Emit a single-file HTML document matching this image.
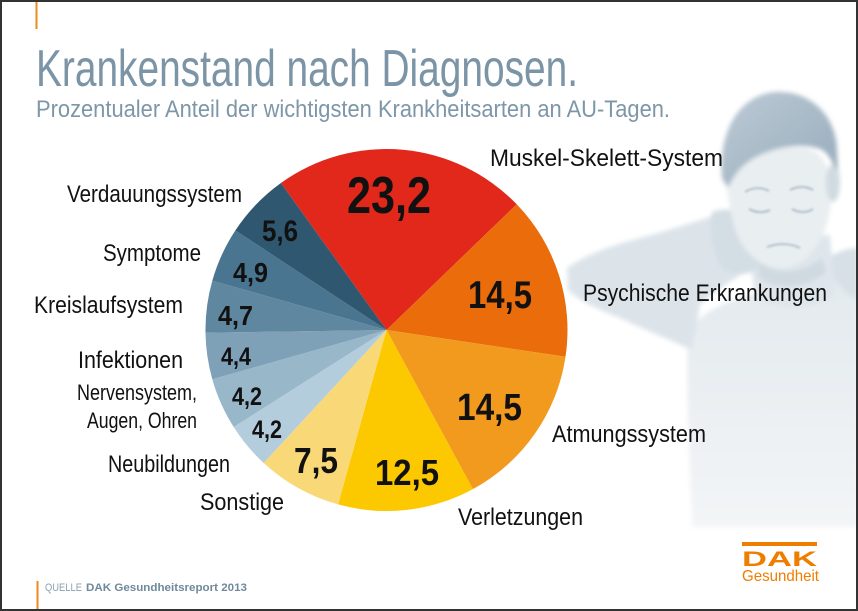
<!DOCTYPE html>
<html>
<head>
<meta charset="utf-8">
<style>
html,body{margin:0;padding:0;background:#fff;overflow:hidden;}
svg{display:block;}
text{font-family:"Liberation Sans",sans-serif;}
</style>
</head>
<body>
<svg width="858" height="611" viewBox="0 0 858 611" xmlns="http://www.w3.org/2000/svg">
<defs>
  <filter id="soft" x="-10%" y="-10%" width="120%" height="120%">
    <feGaussianBlur stdDeviation="2.5"/>
  </filter>
  <filter id="soft2" x="-10%" y="-10%" width="120%" height="120%">
    <feGaussianBlur stdDeviation="1"/>
  </filter>
  <linearGradient id="body" x1="0" y1="0" x2="0" y2="1">
    <stop offset="0" stop-color="#e1e8ed"/>
    <stop offset="1" stop-color="#f3f5f7"/>
  </linearGradient>
  <linearGradient id="hair" x1="0" y1="0" x2="1" y2="1">
    <stop offset="0" stop-color="#bccad5"/>
    <stop offset="1" stop-color="#97abbb"/>
  </linearGradient>
</defs>
<rect width="858" height="611" fill="#fff"/>

<!-- photo (approximation) -->
<g filter="url(#soft)">
  <!-- body / tank top -->
  <path d="M688,335 C700,310 730,298 770,292 C800,285 830,262 858,252 L858,527 L692,527 C690,470 686,400 688,335 Z" fill="url(#body)"/>
  <!-- right shoulder skin -->
  <path d="M828,258 C840,250 850,248 858,248 L858,300 C848,295 838,285 828,270 Z" fill="#d6e0e6"/>
  <!-- neck -->
  <path d="M748,240 L830,235 L835,295 C810,312 780,312 755,298 Z" fill="#dfe6eb"/>
  <!-- neck shadow under chin -->
  <path d="M760,262 C775,275 800,275 822,258 L826,272 C805,290 775,290 758,276 Z" fill="#cfd9e0"/>
  <!-- arm -->
  <path d="M567,268 C585,255 610,246 640,238 C670,230 700,220 720,214 L752,222 L762,262 C740,275 715,290 700,305 L692,350 C670,340 645,330 620,318 C600,310 580,302 568,290 Z" fill="#dce4ea"/>
  <!-- hand -->
  <path d="M712,212 C728,206 748,212 760,226 L764,262 C754,275 736,278 722,268 C712,250 708,230 712,212 Z" fill="#d3dde4"/>
  <!-- face -->
  <path d="M727,172 C732,152 762,146 800,147 C822,149 833,166 831,200 C829,235 811,262 786,268 C761,271 741,251 734,226 C729,206 726,188 727,172 Z" fill="#e9eef1"/>
  <!-- ear -->
  <ellipse cx="833" cy="183" rx="7" ry="19" fill="#d0dae1"/>
  <!-- hair -->
  <path d="M722,178 C718,130 740,95 775,92 C810,90 836,115 837,150 L838,172 C832,162 828,152 820,149 C803,143 780,146 760,155 C745,162 735,172 728,188 Z" fill="url(#hair)"/>
</g>
<g filter="url(#soft2)" fill="none" stroke="#a4b3bf" stroke-width="1.6">
  <path d="M745,192 C753,187 762,187 769,191"/>
  <path d="M790,190 C798,186 806,186 813,190"/>
  <path d="M749,209 C756,213 764,213 770,210"/>
  <path d="M792,209 C799,213 807,213 813,209"/>
  <path d="M767,247 C778,243 790,243 800,248"/>
</g>

<!-- pie -->
<g>
  <path d="M386.5,330 L280.9,183 A181,181 0 0 1 516.7,204.3 Z" fill="#e2271b"/>
  <path d="M386.5,330 L516.7,204.3 A181,181 0 0 1 565.5,356.8 Z" fill="#ea6c0b"/>
  <path d="M386.5,330 L565.5,356.8 A181,181 0 0 1 472.9,489.1 Z" fill="#f29a1d"/>
  <path d="M386.5,330 L472.9,489.1 A181,181 0 0 1 338.1,504.4 Z" fill="#fcc800"/>
  <path d="M386.5,330 L338.1,504.4 A181,181 0 0 1 263.7,463 Z" fill="#f9d977"/>
  <path d="M386.5,330 L263.7,463 A181,181 0 0 1 233.7,427 Z" fill="#b4cddc"/>
  <path d="M386.5,330 L233.7,427 A181,181 0 0 1 212.3,379.3 Z" fill="#98b7c9"/>
  <path d="M386.5,330 L212.3,379.3 A181,181 0 0 1 205.5,332.8 Z" fill="#7fa1b7"/>
  <path d="M386.5,330 L205.5,332.8 A181,181 0 0 1 212.3,280.7 Z" fill="#5f879f"/>
  <path d="M386.5,330 L212.3,280.7 A181,181 0 0 1 235.4,230.4 Z" fill="#4a7590"/>
  <path d="M386.5,330 L235.4,230.4 A181,181 0 0 1 280.9,183 Z" fill="#2f5870"/>
</g>

<!-- pie values -->
<g fill="#111" font-weight="bold">
  <text x="347" y="213" font-size="52" textLength="84" lengthAdjust="spacingAndGlyphs">23,2</text>
  <text x="468" y="308" font-size="39" textLength="64" lengthAdjust="spacingAndGlyphs">14,5</text>
  <text x="457" y="420" font-size="38" textLength="65" lengthAdjust="spacingAndGlyphs">14,5</text>
  <text x="375" y="485" font-size="36" textLength="64" lengthAdjust="spacingAndGlyphs">12,5</text>
  <text x="294" y="473" font-size="36" textLength="44" lengthAdjust="spacingAndGlyphs">7,5</text>
  <text x="262" y="241" font-size="30" textLength="36" lengthAdjust="spacingAndGlyphs">5,6</text>
  <text x="233" y="282" font-size="28" textLength="35" lengthAdjust="spacingAndGlyphs">4,9</text>
  <text x="218" y="325" font-size="28" textLength="35" lengthAdjust="spacingAndGlyphs">4,7</text>
  <text x="221" y="365" font-size="25" textLength="30" lengthAdjust="spacingAndGlyphs">4,4</text>
  <text x="232" y="405" font-size="25" textLength="30" lengthAdjust="spacingAndGlyphs">4,2</text>
  <text x="252" y="438" font-size="25" textLength="30" lengthAdjust="spacingAndGlyphs">4,2</text>
</g>

<!-- labels -->
<g fill="#111" font-size="24">
  <text x="490" y="166" textLength="233" lengthAdjust="spacingAndGlyphs">Muskel-Skelett-System</text>
  <text x="583" y="301" textLength="244" lengthAdjust="spacingAndGlyphs">Psychische Erkrankungen</text>
  <text x="552" y="442" textLength="154" lengthAdjust="spacingAndGlyphs">Atmungssystem</text>
  <text x="458" y="525" textLength="125" lengthAdjust="spacingAndGlyphs">Verletzungen</text>
  <text x="200" y="510" textLength="84" lengthAdjust="spacingAndGlyphs">Sonstige</text>
  <text x="108" y="472" textLength="122" lengthAdjust="spacingAndGlyphs">Neubildungen</text>
  <text x="77" y="400" font-size="22" textLength="120" lengthAdjust="spacingAndGlyphs">Nervensystem,</text>
  <text x="87" y="428" font-size="22" textLength="110" lengthAdjust="spacingAndGlyphs">Augen, Ohren</text>
  <text x="78" y="368" textLength="105" lengthAdjust="spacingAndGlyphs">Infektionen</text>
  <text x="34" y="313" textLength="149" lengthAdjust="spacingAndGlyphs">Kreislaufsystem</text>
  <text x="103" y="261" textLength="98" lengthAdjust="spacingAndGlyphs">Symptome</text>
  <text x="67" y="202" textLength="175" lengthAdjust="spacingAndGlyphs">Verdauungssystem</text>
</g>

<!-- title -->
<rect x="35.5" y="2" width="2" height="27" fill="#f08a1c"/>
<text x="36" y="86" font-size="52" fill="#7b94a6" textLength="542" lengthAdjust="spacingAndGlyphs">Krankenstand nach Diagnosen.</text>
<text x="36" y="117" font-size="24" fill="#7e97a8" textLength="634" lengthAdjust="spacingAndGlyphs">Prozentualer Anteil der wichtigsten Krankheitsarten an AU-Tagen.</text>

<!-- source -->
<rect x="36.5" y="581" width="2" height="28" fill="#f08a1c"/>
<text x="45" y="591" font-size="11" fill="#8aa0b0" textLength="37" lengthAdjust="spacingAndGlyphs">QUELLE</text>
<text x="86" y="591" font-size="11" font-weight="bold" fill="#6f899b" textLength="161" lengthAdjust="spacingAndGlyphs">DAK Gesundheitsreport 2013</text>

<!-- DAK logo -->
<rect x="742" y="542" width="75" height="4" fill="#ef7d00"/>
<text x="742" y="566" font-size="21" font-weight="bold" fill="#ef7d00" textLength="75" lengthAdjust="spacingAndGlyphs">DAK</text>
<text x="742" y="581" font-size="16" fill="#ef7d00" textLength="77" lengthAdjust="spacingAndGlyphs">Gesundheit</text>

<!-- frame -->
<rect x="1" y="1" width="856" height="609" fill="none" stroke="#333" stroke-width="2"/>
</svg>
</body>
</html>
